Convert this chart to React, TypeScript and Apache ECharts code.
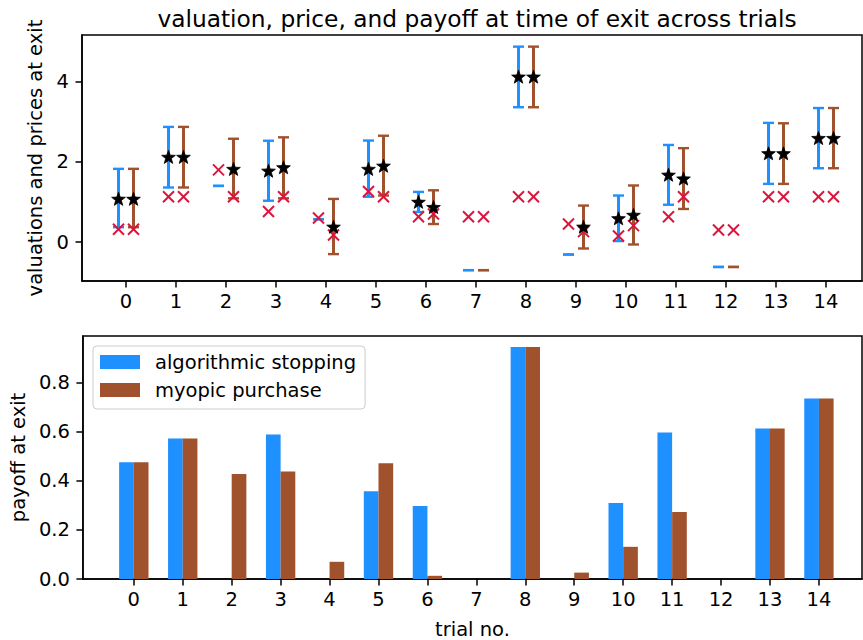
import React, { useEffect, useRef } from "react";
import * as echarts from "echarts";

// ---------- data ----------
const trials = [0, 1, 2, 3, 4, 5, 6, 7, 8, 9, 10, 11, 12, 13, 14];
const topYTicks = [0, 2, 4];
const bottomYTicks = [0, 0.2, 0.4, 0.6, 0.8];

// algorithmic stopping: valuation range, mean valuation (null = no purchase), price at exit
const algoLow = [0.37, 1.36, 1.4, 1.03, 0.57, 1.13, 0.75, -0.7, 3.36, -0.31, 0.025, 0.93, -0.62, 1.45, 1.84];
const algoHigh = [1.825, 2.87, 1.4, 2.525, 0.57, 2.53, 1.25, -0.7, 4.87, -0.31, 1.16, 2.42, -0.62, 2.97, 3.34];
const algoMean = [1.075, 2.12, null, 1.775, null, 1.82, 1.0, null, 4.12, null, 0.59, 1.675, null, 2.21, 2.59];
const algoPrice = [0.32, 1.13, 1.8, 0.76, 0.6, 1.26, 0.63, 0.63, 1.13, 0.45, 0.15, 0.63, 0.3, 1.13, 1.13];

// myopic purchase
const myopLow = [0.37, 1.36, 1.09, 1.09, -0.3, 1.16, 0.45, -0.7, 3.36, -0.16, -0.06, 0.825, -0.62, 1.45, 1.84];
const myopHigh = [1.825, 2.87, 2.575, 2.61, 1.075, 2.65, 1.29, -0.7, 4.87, 0.91, 1.41, 2.34, -0.62, 2.96, 3.34];
const myopMean = [1.075, 2.12, 1.82, 1.86, 0.38, 1.9, 0.87, null, 4.12, 0.38, 0.675, 1.58, null, 2.21, 2.59];
const myopPrice = [0.32, 1.13, 1.13, 1.13, 0.175, 1.13, 0.7, 0.63, 1.13, 0.26, 0.41, 1.13, 0.3, 1.13, 1.13];

// payoff at exit
const algoPayoff = [0.475, 0.572, 0, 0.588, 0, 0.357, 0.297, 0, 0.944, 0, 0.309, 0.596, 0, 0.613, 0.735];
const myopPayoff = [0.475, 0.572, 0.427, 0.438, 0.07, 0.471, 0.013, 0, 0.944, 0.026, 0.131, 0.273, 0, 0.613, 0.735];

const seriesNames = ["algorithmic stopping", "myopic purchase"];

// ---------- styles ----------
const BLUE = "#1E90FF";
const BROWN = "#A0522D";
const RED = "#DC143C";
const FONT = "DejaVu Sans";
const TICK_FS = 19.5;
const OFFSET = 0.15;
const BAR_W = 0.3;

function starPoints(cx: number, cy: number, R: number, r: number) {
  const pts: number[][] = [];
  for (let k = 0; k < 10; k++) {
    const ang = (-90 + k * 36) * (Math.PI / 180);
    const rad = k % 2 === 0 ? R : r;
    pts.push([cx + rad * Math.cos(ang), cy + rad * Math.sin(ang)]);
  }
  return pts;
}

function errorbarSeries(name: string, low: number[], high: number[], color: string, off: number) {
  return {
    type: "custom",
    name,
    xAxisIndex: 0,
    yAxisIndex: 0,
    z: 2,
    encode: { x: 0, y: [1, 2] },
    itemStyle: { color },
    data: trials.map((t, i) => [t, low[i], high[i]]),
    renderItem: (_p: any, api: any) => {
      const x = api.value(0) + off;
      const lo = api.coord([x, api.value(1)]);
      const hi = api.coord([x, api.value(2)]);
      const cap = 5.5;
      return {
        type: "group",
        children: [
          { type: "line", shape: { x1: lo[0], y1: lo[1], x2: hi[0], y2: hi[1] }, style: { stroke: color, lineWidth: 3 } },
          { type: "line", shape: { x1: lo[0] - cap, y1: lo[1], x2: lo[0] + cap, y2: lo[1] }, style: { stroke: color, lineWidth: 2.4 } },
          { type: "line", shape: { x1: hi[0] - cap, y1: hi[1], x2: hi[0] + cap, y2: hi[1] }, style: { stroke: color, lineWidth: 2.4 } },
        ],
      };
    },
  };
}

function priceSeries(name: string, price: number[], off: number) {
  return {
    type: "custom",
    name,
    xAxisIndex: 0,
    yAxisIndex: 0,
    z: 3,
    encode: { x: 0, y: 1 },
    itemStyle: { color: RED },
    data: trials.map((t, i) => [t, price[i]]),
    renderItem: (_p: any, api: any) => {
      const p = api.coord([api.value(0) + off, api.value(1)]);
      const h = 5.5;
      return {
        type: "group",
        children: [
          { type: "line", shape: { x1: p[0] - h, y1: p[1] - h, x2: p[0] + h, y2: p[1] + h }, style: { stroke: RED, lineWidth: 2 } },
          { type: "line", shape: { x1: p[0] - h, y1: p[1] + h, x2: p[0] + h, y2: p[1] - h }, style: { stroke: RED, lineWidth: 2 } },
        ],
      };
    },
  };
}

function starSeries(name: string, mean: (number | null)[], off: number) {
  const data: number[][] = [];
  trials.forEach((t, i) => {
    const m = mean[i];
    if (m !== null) data.push([t, m]);
  });
  return {
    type: "custom",
    name,
    xAxisIndex: 0,
    yAxisIndex: 0,
    z: 4,
    encode: { x: 0, y: 1 },
    itemStyle: { color: "#000" },
    data,
    renderItem: (_p: any, api: any) => {
      const p = api.coord([api.value(0) + off, api.value(1)]);
      return {
        type: "polygon",
        shape: { points: starPoints(p[0], p[1] + 0.6, 7.2, 3.0) },
        style: { fill: "#000", stroke: "#000", lineWidth: 0.8 },
      };
    },
  };
}

function barSeries(name: string, values: number[], color: string, left: boolean) {
  return {
    type: "custom",
    name,
    xAxisIndex: 1,
    yAxisIndex: 1,
    z: 2,
    encode: { x: 0, y: 1 },
    itemStyle: { color },
    data: trials.map((t, i) => [t, values[i]]),
    renderItem: (_p: any, api: any) => {
      const t = api.value(0);
      const v = api.value(1);
      const x0 = left ? t - BAR_W : t;
      const x1 = left ? t : t + BAR_W;
      const a = api.coord([x0, v]);
      const b = api.coord([x1, 0]);
      return {
        type: "rect",
        shape: { x: a[0], y: a[1], width: b[0] - a[0], height: b[1] - a[1] },
        style: { fill: color },
      };
    },
  };
}

const axisCommon = {
  axisLine: { show: true, onZero: false, lineStyle: { color: "#000", width: 1.5 } },
  axisTick: { show: true, length: 6.5, lineStyle: { color: "#000", width: 1.5 } },
  splitLine: { show: false },
  nameTextStyle: { fontFamily: FONT, fontSize: TICK_FS, color: "#000" },
};

const labelStyle = { fontFamily: FONT, fontSize: TICK_FS, color: "#000" };

export default function App() {
  const ref = useRef<HTMLDivElement>(null);
  useEffect(() => {
    document.body.style.margin = "0";
    const chart = echarts.init(ref.current!, null, { renderer: "svg" });
    const option: any = {
      animation: false,
      backgroundColor: "#fff",
      title: {
        text: "valuation, price, and payoff at time of exit across trials",
        left: 472,
        top: 2,
        textAlign: "center",
        textStyle: { fontFamily: FONT, fontSize: 23.3, fontWeight: "normal", color: "#000" },
      },
      legend: {
        data: seriesNames,
        orient: "vertical",
        left: 93,
        top: 346,
        icon: "rect",
        itemWidth: 40,
        itemHeight: 14,
        itemGap: 8,
        selectedMode: false,
        padding: [6, 9, 9, 7],
        borderColor: "#cccccc",
        borderWidth: 1,
        borderRadius: 4,
        backgroundColor: "rgba(255,255,255,0.8)",
        textStyle: { fontFamily: FONT, fontSize: TICK_FS, color: "#000", lineHeight: 14, padding: [0, 0, 0, 10] },
      },
      grid: [
        { left: 82, top: 35, width: 780, height: 246, show: true, borderColor: "#000", borderWidth: 1.5, backgroundColor: "transparent" },
        { left: 82, top: 336, width: 780, height: 244.5, show: true, borderColor: "#000", borderWidth: 1.5, backgroundColor: "transparent" },
      ],
      xAxis: [
        {
          ...axisCommon,
          type: "value",
          gridIndex: 0,
          min: -0.88,
          max: 14.72,
          axisTick: { ...axisCommon.axisTick, customValues: trials },
          axisLabel: { ...labelStyle, margin: 10, customValues: trials, formatter: (v: number) => String(v) },
        },
        {
          ...axisCommon,
          type: "value",
          gridIndex: 1,
          min: -1.04,
          max: 14.88,
          name: "trial no.",
          nameLocation: "middle",
          nameGap: 40,
          axisTick: { ...axisCommon.axisTick, customValues: trials },
          axisLabel: { ...labelStyle, margin: 10, customValues: trials, formatter: (v: number) => String(v) },
        },
      ],
      yAxis: [
        {
          ...axisCommon,
          type: "value",
          gridIndex: 0,
          min: -0.97,
          max: 5.16,
          name: "valuations and prices at exit",
          nameLocation: "middle",
          nameGap: 32,
          axisTick: { ...axisCommon.axisTick, customValues: topYTicks },
          axisLabel: { ...labelStyle, margin: 13, customValues: topYTicks, formatter: (v: number) => String(v) },
        },
        {
          ...axisCommon,
          type: "value",
          gridIndex: 1,
          min: 0,
          max: 0.989,
          name: "payoff at exit",
          nameLocation: "middle",
          nameGap: 52,
          axisTick: { ...axisCommon.axisTick, customValues: bottomYTicks },
          axisLabel: { ...labelStyle, margin: 13, customValues: bottomYTicks, formatter: (v: number) => v.toFixed(1) },
        },
      ],
      series: [
        errorbarSeries("valuation range (" + seriesNames[0] + ")", algoLow, algoHigh, BLUE, -OFFSET),
        errorbarSeries("valuation range (" + seriesNames[1] + ")", myopLow, myopHigh, BROWN, OFFSET),
        priceSeries("price at exit (" + seriesNames[0] + ")", algoPrice, -OFFSET),
        priceSeries("price at exit (" + seriesNames[1] + ")", myopPrice, OFFSET),
        starSeries("mean valuation (" + seriesNames[0] + ")", algoMean, -OFFSET),
        starSeries("mean valuation (" + seriesNames[1] + ")", myopMean, OFFSET),
        barSeries(seriesNames[0], algoPayoff, BLUE, true),
        barSeries(seriesNames[1], myopPayoff, BROWN, false),
      ],
    };
    chart.setOption(option);
    return () => chart.dispose();
  }, []);
  return <div ref={ref} style={{ width: 863, height: 640 }} />;
}
